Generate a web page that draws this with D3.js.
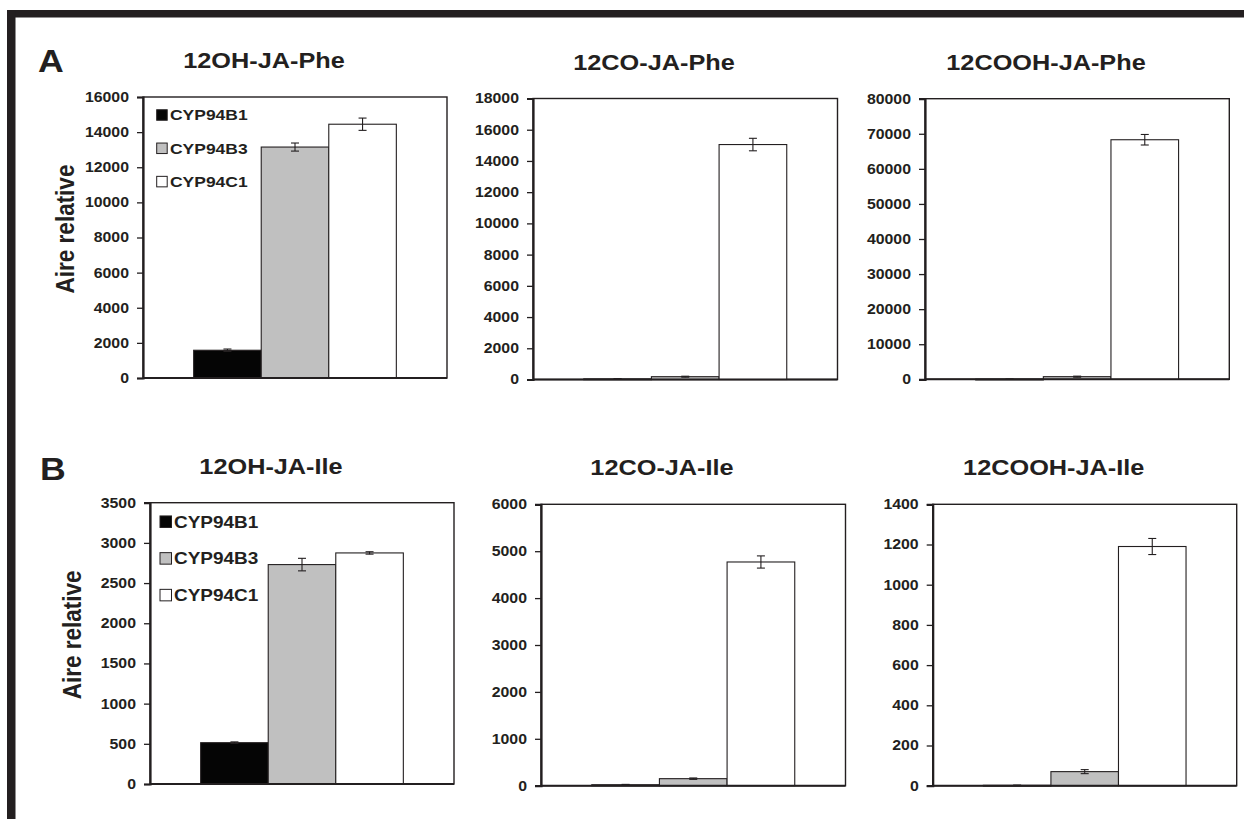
<!DOCTYPE html>
<html><head><meta charset="utf-8">
<script src="https://cdn.jsdelivr.net/npm/d3@7"></script>
<style>body{margin:0;background:#fff}svg{display:block}</style>
</head><body>
<script>
// ---------- data ----------
const seriesNames = ["CYP94B1", "CYP94B3", "CYP94C1"];
const panelTitles = ["12OH-JA-Phe", "12CO-JA-Phe", "12COOH-JA-Phe", "12OH-JA-Ile", "12CO-JA-Ile", "12COOH-JA-Ile"];
const rowLetters = ["A", "B"];
const yAxisTitle = "Aire relative";
const yMaxValues = [16000, 18000, 80000, 3500, 6000, 1400];
const yTickSteps = [2000, 2000, 10000, 500, 1000, 200];
const cyp94b1Values = [1580, 40, 40, 514, 20, 2];
const cyp94b3Values = [13150, 180, 750, 2730, 150, 70];
const cyp94c1Values = [14450, 15050, 68300, 2875, 4770, 1190];
const cyp94b1Errors = [70, 20, 20, 10, 8, 1];
const cyp94b3Errors = [230, 30, 150, 78, 15, 10];
const cyp94c1Errors = [350, 400, 1500, 15, 130, 40];

// ---------- layout / style ----------
const W = 1244, H = 819, SX = 1.15;
const INK = "#231f20";
const FONT = "Arial, 'Liberation Sans', sans-serif";
const fills = ["#050505", "#c0c0c0", "#ffffff"];
const boxes = [
  {x: 143, y: 97, w: 304, h: 281},
  {x: 533, y: 98.5, w: 304.5, h: 281},
  {x: 925, y: 98.7, w: 304.3, h: 280.6},
  {x: 150, y: 502.7, w: 304, h: 281.3},
  {x: 541, y: 504.3, w: 304.5, h: 281.4},
  {x: 932.7, y: 504.3, w: 304, h: 281.4}
];

const svg = d3.select("body").append("svg").attr("width", W).attr("height", H);
svg.append("rect").attr("width", W).attr("height", H).attr("fill", "#fff");

// outer frame
svg.append("rect").attr("x", 7).attr("y", 10).attr("width", W - 7).attr("height", 7.5).attr("fill", INK);
svg.append("rect").attr("x", 7).attr("y", 10).attr("width", 8.5).attr("height", H - 10).attr("fill", INK);

function stext(g, x, y, str, size, anchor, rotate) {
  return g.append("text")
    .attr("transform", `translate(${x},${y}) scale(${SX},1)` + (rotate ? ` rotate(${rotate})` : ""))
    .attr("text-anchor", anchor || "start")
    .attr("font-family", FONT).attr("font-weight", "bold")
    .attr("font-size", size).attr("fill", INK)
    .text(str);
}

// row letters
stext(svg, 38, 72, rowLetters[0], 31);
stext(svg, 40, 480, rowLetters[1], 31);

boxes.forEach((b, i) => {
  const g = svg.append("g");
  const vals = [cyp94b1Values[i], cyp94b3Values[i], cyp94c1Values[i]];
  const errs = [cyp94b1Errors[i], cyp94b3Errors[i], cyp94c1Errors[i]];
  const y = d3.scaleLinear().domain([0, yMaxValues[i]]).range([b.y + b.h, b.y]);
  const x = d3.scaleBand().domain(seriesNames).range([b.x, b.x + b.w]).paddingInner(0).paddingOuter(0.75);

  // box
  g.append("rect").attr("x", b.x).attr("y", b.y).attr("width", b.w).attr("height", b.h)
    .attr("fill", "#fff").attr("stroke", INK).attr("stroke-width", 1.4);

  // bars
  seriesNames.forEach((s, k) => {
    const v = vals[k];
    g.append("rect").attr("x", x(s)).attr("y", y(v)).attr("width", x.bandwidth())
      .attr("height", Math.max(0.8, y(0) - y(v)))
      .attr("fill", fills[k]).attr("stroke", INK).attr("stroke-width", 1.1);
  });
  // error bars
  seriesNames.forEach((s, k) => {
    const cx = x(s) + x.bandwidth() / 2;
    const lo = y(vals[k] - errs[k]), hi = y(vals[k] + errs[k]);
    const e = g.append("g").attr("stroke", INK).attr("stroke-width", 1.1);
    e.append("line").attr("x1", cx).attr("x2", cx).attr("y1", lo).attr("y2", hi);
    e.append("line").attr("x1", cx - 4).attr("x2", cx + 4).attr("y1", lo).attr("y2", lo);
    e.append("line").attr("x1", cx - 4).attr("x2", cx + 4).attr("y1", hi).attr("y2", hi);
  });

  // y axis
  const ticks = d3.range(0, yMaxValues[i] + 1e-9, yTickSteps[i]);
  const axis = d3.axisLeft(y).tickValues(ticks).tickSize(6).tickFormat(d3.format("d"));
  const ag = g.append("g").attr("transform", `translate(${b.x},0)`).call(axis);
  ag.select(".domain").attr("stroke", INK).attr("stroke-width", 2.2);
  ag.selectAll(".tick line").attr("stroke", INK).attr("stroke-width", 1.3);
  ag.selectAll(".tick text").remove();
  ticks.forEach(t => {
    stext(g, b.x - 14, y(t), d3.format("d")(t), 13.8, "end").attr("dy", "0.36em");
  });
  // x baseline
  g.append("line").attr("x1", b.x).attr("x2", b.x + b.w).attr("y1", y(0)).attr("y2", y(0))
    .attr("stroke", INK).attr("stroke-width", 2);

  // title
  stext(g, b.x + 121, b.y - 29, panelTitles[i], 22, "middle");

  // y label + legend for first column
  if (i % 3 === 0) {
    const row = i / 3;
    stext(g, b.x - 69, b.y + b.h / 2 - 8.5, yAxisTitle, 22.5, "middle", -90);
    const fs = row === 0 ? 15.2 : 16.5;
    const gap = row === 0 ? 33.3 : 36.7;
    const y0 = row === 0 ? b.y + 18 : b.y + 19;
    const sq = row === 0 ? 10.5 : 11.5;
    const sx0 = row === 0 ? 156.7 : 160;
    const tx0 = row === 0 ? 170 : 174;
    seriesNames.forEach((s, k) => {
      const cy = y0 + k * gap;
      g.append("rect").attr("x", sx0).attr("y", cy - sq / 2).attr("width", sq).attr("height", sq)
        .attr("fill", fills[k]).attr("stroke", INK).attr("stroke-width", 1);
      stext(g, tx0, cy, s, fs, "start").attr("dy", "0.36em");
    });
  }
});
</script>
</body></html>
